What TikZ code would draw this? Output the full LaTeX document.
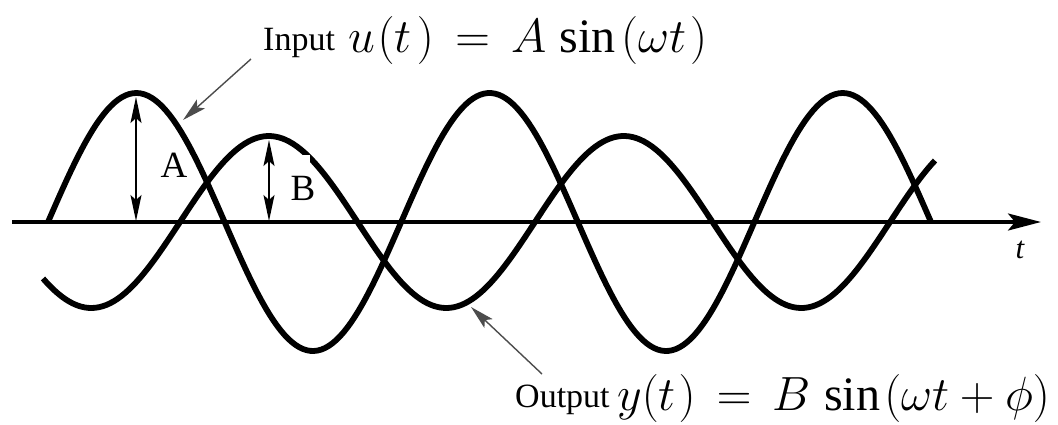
\documentclass[tikz,border=0pt]{standalone}
\usepackage{fontspec}
\setmainfont{Liberation Serif}
\usetikzlibrary{arrows.meta}
\newcommand{\bigmath}[1]{\scalebox{1.93}{\fontsize{24.88}{30}\selectfont #1}}
\begin{document}
\begin{tikzpicture}[x=1pt,y=-1pt,
  wave/.style={line width=5.8pt},
  axisline/.style={line width=3.3pt,-{Stealth[length=33pt,width=17pt,inset=7pt]}},
  amp/.style={line width=1.5pt,{Stealth[length=26pt,width=11pt,inset=5pt]}-{Stealth[length=26pt,width=11pt,inset=5pt]}},
  pointer/.style={line width=1.4pt,draw=black!70,-{Stealth[length=24pt,width=12pt,inset=5pt]}},
  lbl/.style={font=\fontsize{34}{40}\selectfont,inner sep=0pt},
  amplbl/.style={font=\fontsize{37}{44}\selectfont,inner sep=0pt},
  formula/.style={inner sep=0pt},
  tlbl/.style={font=\fontsize{31}{36}\selectfont\itshape,inner sep=0pt}]
\useasboundingbox (0,0) rectangle (1058,424);
% axis
\coordinate (ax0) at (12,222);
\coordinate (ax1) at (1041,222);
\draw[axisline] (ax0) -- (ax1);
\node[tlbl] (tl) at (1020,250) {t};
% waves
\draw[wave] plot[domain=48:931,samples=240] (\x,{222-129*sin((\x-48)*1.019253)});
\draw[wave] plot[domain=43:935,samples=240] (\x,{222-86*sin((\x-180)*1.014085)});
\fill[white] (301,155) rectangle (310,163);
% amplitudes
\coordinate (Atop) at (136,97);
\coordinate (Abot) at (136,221);
\draw[amp] (Atop) -- (Abot);
\coordinate (Btop) at (269,140);
\coordinate (Bbot) at (269,221);
\draw[amp] (Btop) -- (Bbot);
\node[amplbl] (Alab) at (174,165) {A};
\node[amplbl] (Blab) at (303,188) {B};
% labels
\node[lbl,anchor=base west] (inlab) at (263,50) {Input};
\node[formula,anchor=base west] (infx) at (348,52)
  {\bigmath{\thickmuskip=8mu\thinmuskip=5mu $u\mkern1mu(t\mkern2mu)=A\sin\mkern2mu(\omega t\mkern1.5mu)$}};
\node[lbl,anchor=base west] (outlab) at (515,407) {Output};
\node[formula,anchor=base west] (outfx) at (617,410)
  {\bigmath{\thickmuskip=8mu\thinmuskip=5mu $y(t\mkern1mu)=B\sin\mkern1.5mu(\omega t+\phi)$}};
% pointers
\coordinate (inS) at (251,59);
\coordinate (inT) at (183,120);
\draw[pointer] (inS) -- (inT);
\coordinate (outS) at (542,374);
\coordinate (outT) at (471,307);
\draw[pointer] (outS) -- (outT);
\end{tikzpicture}
\end{document}
